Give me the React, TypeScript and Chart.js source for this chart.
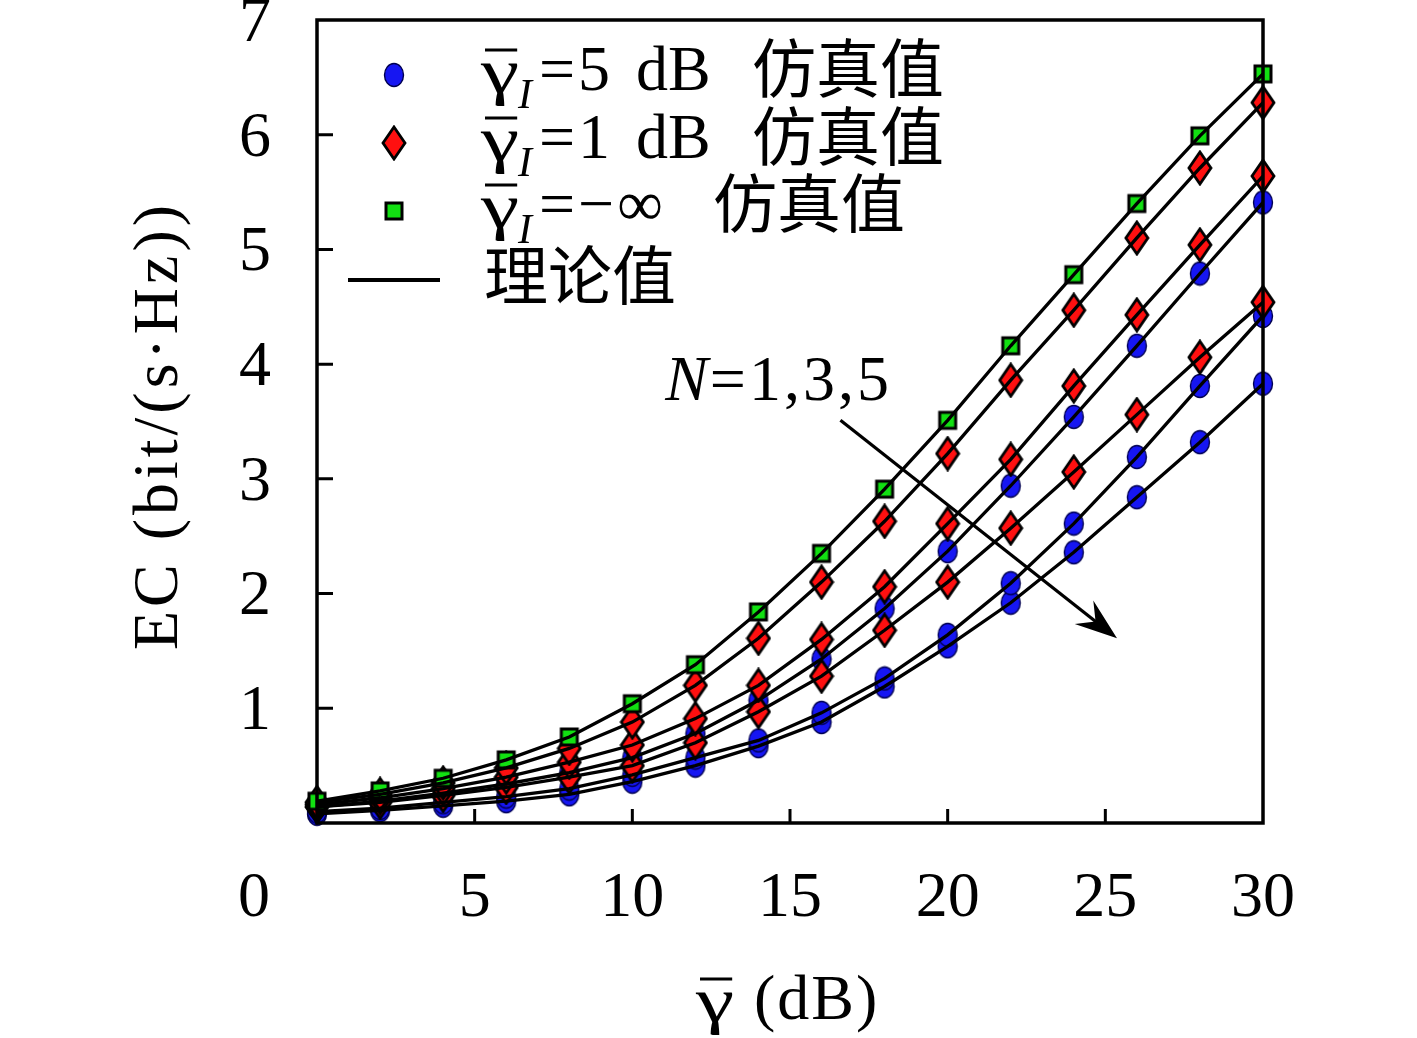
import React, { useEffect, useRef } from "react";
import { Chart, registerables } from "chart.js";

Chart.register(...registerables);

// x axis: average SNR (dB)
const snrDb = [0, 2, 4, 6, 8, 10, 12, 14, 16, 18, 20, 22, 24, 26, 28, 30];

// EC (bit/(s·Hz))
const ecNoInterference = [0.19, 0.28, 0.39, 0.55, 0.75, 1.04, 1.38, 1.84, 2.35, 2.91, 3.51, 4.16, 4.78, 5.4, 5.99, 6.53];
const ec1dBN1 = [0.18, 0.25, 0.35, 0.48, 0.65, 0.88, 1.2, 1.61, 2.1, 2.63, 3.22, 3.86, 4.47, 5.1, 5.71, 6.28];
const ec1dBN3 = [0.16, 0.22, 0.3, 0.4, 0.53, 0.68, 0.91, 1.2, 1.6, 2.06, 2.61, 3.17, 3.81, 4.43, 5.04, 5.64];
const ec1dBN5 = [0.14, 0.18, 0.24, 0.31, 0.4, 0.5, 0.7, 0.97, 1.28, 1.68, 2.1, 2.57, 3.06, 3.56, 4.06, 4.54];
const ec5dBN1 = [0.14, 0.19, 0.26, 0.34, 0.44, 0.57, 0.78, 1.07, 1.43, 1.87, 2.37, 2.94, 3.54, 4.16, 4.79, 5.41];
const ec5dBN3 = [0.1, 0.13, 0.18, 0.23, 0.3, 0.42, 0.57, 0.72, 0.96, 1.26, 1.64, 2.09, 2.61, 3.19, 3.81, 4.42];
const ec5dBN5 = [0.08, 0.11, 0.15, 0.19, 0.25, 0.36, 0.5, 0.67, 0.88, 1.19, 1.54, 1.92, 2.36, 2.84, 3.32, 3.83];

const xTickValues = [5, 10, 15, 20, 25, 30];
const yTickValues = [1, 2, 3, 4, 5, 6, 7];

const legendValues = ["=5 dB", "=1 dB", "=\u2212\u221e"];
const simLabel = "仿真值";
const theoryLabel = "理论值";
const yTitle = "EC (bit/(s·Hz))";
const arrowText = "=1,3,5";
// arrow in data coordinates
const arrowFrom = { x: 16.6, y: 3.51 };
const arrowTo = { x: 25.37, y: 1.61 };
const arrowLabelAt = { x: 11.04, y: 3.83 };

const SERIF = '"Liberation Serif", "Noto Sans CJK SC", serif';
const FS = 64;

function makeCanvas(w: number, h: number, draw: (g: CanvasRenderingContext2D) => void) {
  const c = document.createElement("canvas");
  c.width = w;
  c.height = h;
  draw(c.getContext("2d") as CanvasRenderingContext2D);
  return c;
}

function circleMarker() {
  return makeCanvas(22, 26, (g) => {
    g.beginPath();
    g.ellipse(11, 13, 9.5, 11.5, 0, 0, Math.PI * 2);
    g.fillStyle = "#1616f2";
    g.fill();
    g.lineWidth = 1.4;
    g.strokeStyle = "#000050";
    g.stroke();
  });
}

function diamondMarker() {
  return makeCanvas(26, 36, (g) => {
    g.beginPath();
    g.moveTo(13, 2);
    g.lineTo(24, 18);
    g.lineTo(13, 34);
    g.lineTo(2, 18);
    g.closePath();
    g.fillStyle = "#ff1010";
    g.fill();
    g.lineWidth = 2.8;
    g.strokeStyle = "#000";
    g.stroke();
  });
}

function squareMarker() {
  return makeCanvas(22, 22, (g) => {
    g.fillStyle = "#12e012";
    g.fillRect(3, 3, 16, 16);
    g.lineWidth = 3;
    g.strokeStyle = "#000";
    g.strokeRect(3, 3, 16, 16);
  });
}

// upright gamma, widened a little, with a bar on top
function drawGammaBar(ctx: CanvasRenderingContext2D, x: number, cy: number, size: number) {
  const sx = 1.35;
  ctx.font = `${size}px ${SERIF}`;
  ctx.textAlign = "left";
  ctx.textBaseline = "middle";
  const w = ctx.measureText("γ").width * sx;
  ctx.save();
  ctx.translate(x, cy + 2);
  ctx.scale(sx, 1);
  ctx.fillText("γ", 0, 0);
  ctx.restore();
  ctx.beginPath();
  ctx.lineWidth = 3;
  ctx.moveTo(x + 4, cy - size * 0.36);
  ctx.lineTo(x + w - 2, cy - size * 0.36);
  ctx.stroke();
  return w;
}

const framePlugin = {
  id: "frame",
  afterDatasetsDraw(chart: any) {
    const { ctx, chartArea } = chart;
    const { left, top, right, bottom } = chartArea;
    const xs = chart.scales.x;
    const ys = chart.scales.y;
    ctx.save();
    ctx.strokeStyle = "#000";
    ctx.lineWidth = 3.5;
    ctx.strokeRect(left, top, right - left, bottom - top);
    ctx.lineWidth = 3;
    ctx.beginPath();
    xTickValues.forEach((v) => {
      const px = xs.getPixelForValue(v);
      if (px < right - 2) {
        ctx.moveTo(px, bottom);
        ctx.lineTo(px, bottom - 14);
      }
    });
    yTickValues.forEach((v) => {
      const py = ys.getPixelForValue(v);
      if (py > top + 2) {
        ctx.moveTo(left, py);
        ctx.lineTo(left + 16, py);
      }
    });
    ctx.stroke();
    ctx.restore();
  },
};

const overlayPlugin = {
  id: "overlay",
  afterDraw(chart: any, _args: any, opts: any) {
    const { ctx, chartArea } = chart;
    const { left, top, right, bottom } = chartArea;
    const xs = chart.scales.x;
    const ys = chart.scales.y;
    const markers = opts.markers;
    ctx.save();
    ctx.fillStyle = "#000";
    ctx.strokeStyle = "#000";

    // origin label "0", aligned with the x tick labels
    const items = xs.getLabelItems ? xs.getLabelItems() : [];
    ctx.font = `${FS}px ${SERIF}`;
    ctx.textAlign = "right";
    if (items.length) {
      const it = items[0];
      ctx.textBaseline = it.options.textBaseline;
      ctx.fillText("0", left - 47, it.options.translation[1] + (it.textOffset || 0));
    } else {
      ctx.textBaseline = "middle";
      ctx.fillText("0", left - 47, 897);
    }

    // y axis title
    ctx.save();
    ctx.translate(160, (top + bottom) / 2 + 4);
    ctx.rotate(-Math.PI / 2);
    ctx.textAlign = "center";
    ctx.textBaseline = "middle";
    (ctx as any).letterSpacing = "4px";
    ctx.fillText(yTitle, 0, 0);
    ctx.restore();

    // x axis title
    const cx = (left + right) / 2;
    const ty = chart.height - 36;
    drawGammaBar(ctx, cx - 94, ty, FS);
    ctx.font = `${FS}px ${SERIF}`;
    ctx.textAlign = "left";
    (ctx as any).letterSpacing = "2px";
    ctx.fillText("(dB)", cx - 36, ty);
    (ctx as any).letterSpacing = "0px";

    // legend
    const mx = left + 77;
    const tx = left + 164;
    const rowY = [top + 53, top + 121, top + 188];
    const markerY = [top + 55, top + 123, top + 191];
    rowY.forEach((cy, i) => {
      ctx.drawImage(markers[i], mx - markers[i].width / 2, markerY[i] - markers[i].height / 2);
      drawGammaBar(ctx, tx, cy, FS);
      ctx.font = `italic 42px ${SERIF}`;
      ctx.fillText("I", tx + 37, cy + 24);
      ctx.font = `${FS}px ${SERIF}`;
      const words = legendValues[i].split(" ");
      (ctx as any).letterSpacing = "3px";
      ctx.fillText(words[0], tx + 58, cy);
      (ctx as any).letterSpacing = "0px";
      if (words[1]) ctx.fillText(words[1], tx + 155, cy);
      ctx.fillText(simLabel, i === 2 ? left + 396 : left + 435, cy + 2);
    });
    const ly = top + 260;
    ctx.beginPath();
    ctx.lineWidth = 4;
    ctx.moveTo(left + 31, ly);
    ctx.lineTo(left + 123, ly);
    ctx.stroke();
    ctx.fillText(theoryLabel, left + 167, ly + 2);

    // N annotation with arrow
    const lx = xs.getPixelForValue(arrowLabelAt.x);
    const lyy = ys.getPixelForValue(arrowLabelAt.y);
    ctx.font = `italic ${FS}px ${SERIF}`;
    ctx.fillText("N", lx, lyy);
    const nw = ctx.measureText("N").width;
    ctx.font = `${FS}px ${SERIF}`;
    (ctx as any).letterSpacing = "3px";
    ctx.fillText(arrowText, lx + nw + 2, lyy);
    (ctx as any).letterSpacing = "0px";

    const x1 = xs.getPixelForValue(arrowFrom.x);
    const y1 = ys.getPixelForValue(arrowFrom.y);
    const x2 = xs.getPixelForValue(arrowTo.x);
    const y2 = ys.getPixelForValue(arrowTo.y);
    const ang = Math.atan2(y2 - y1, x2 - x1);
    const L = 42;
    const W = 15;
    const ux = Math.cos(ang);
    const uy = Math.sin(ang);
    ctx.beginPath();
    ctx.lineWidth = 3.2;
    ctx.moveTo(x1, y1);
    ctx.lineTo(x2 - ux * L * 0.6, y2 - uy * L * 0.6);
    ctx.stroke();
    ctx.beginPath();
    ctx.moveTo(x2, y2);
    ctx.lineTo(x2 - ux * L - uy * W, y2 - uy * L + ux * W);
    ctx.lineTo(x2 - ux * L * 0.65, y2 - uy * L * 0.65);
    ctx.lineTo(x2 - ux * L + uy * W, y2 - uy * L - ux * W);
    ctx.closePath();
    ctx.fill();
    ctx.restore();
  },
};

export default function App() {
  const canvasRef = useRef<HTMLCanvasElement | null>(null);

  useEffect(() => {
    document.body.style.margin = "0";
    const canvas = canvasRef.current;
    if (!canvas) return;

    const circle = circleMarker();
    const diamond = diamondMarker();
    const square = squareMarker();

    const curves = [ecNoInterference, ec1dBN1, ec1dBN3, ec1dBN5, ec5dBN1, ec5dBN3, ec5dBN5];
    const styles = [square, diamond, diamond, diamond, circle, circle, circle];
    const toPoints = (ys: number[]) => snrDb.map((x, i) => ({ x, y: ys[i] }));

    const lineSets = curves.map((c) => ({
      type: "line",
      data: toPoints(c),
      borderColor: "#000",
      borderWidth: 3.3,
      pointRadius: 0,
      fill: false,
      tension: 0,
      order: 0,
    }));
    const markerSets = curves.map((c, i) => ({
      type: "line",
      data: toPoints(c),
      showLine: false,
      pointStyle: styles[i],
      pointRadius: 10,
      clip: false,
      order: 1,
    }));

    const chart = new Chart(canvas, {
      type: "line",
      data: { datasets: [...lineSets, ...markerSets] as any },
      options: {
        animation: false,
        responsive: false,
        events: [],
        layout: { padding: { top: 20, right: 154, bottom: 0, left: 0 } },
        plugins: {
          legend: { display: false },
          tooltip: { enabled: false },
          overlay: { markers: [circle, diamond, square] },
        } as any,
        scales: {
          x: {
            type: "linear",
            min: 0,
            max: 30,
            afterBuildTicks: (s: any) => {
              s.ticks = xTickValues.map((value) => ({ value }));
            },
            afterFit: (s: any) => {
              s.height = 215;
              s.paddingLeft = 0;
              s.paddingRight = 0;
            },
            ticks: {
              font: { family: SERIF, size: FS },
              color: "#000",
              padding: 38,
              maxRotation: 0,
              autoSkip: false,
            },
            grid: { display: false, drawTicks: false },
            border: { display: false },
          },
          y: {
            type: "linear",
            min: 0,
            max: 7,
            afterBuildTicks: (s: any) => {
              s.ticks = yTickValues.map((value) => ({ value }));
            },
            afterFit: (s: any) => {
              s.width = 317;
              s.paddingTop = 0;
              s.paddingBottom = 0;
            },
            ticks: {
              font: { family: SERIF, size: FS },
              color: "#000",
              padding: 46,
              labelOffset: 4,
              autoSkip: false,
            },
            grid: { display: false, drawTicks: false },
            border: { display: false },
          },
        },
      },
      plugins: [framePlugin, overlayPlugin],
    } as any);

    return () => {
      chart.destroy();
    };
  }, []);

  return (
    <div style={{ width: 1417, height: 1038, background: "#fff" }}>
      <canvas ref={canvasRef} width={1417} height={1038} style={{ display: "block" }} />
    </div>
  );
}
